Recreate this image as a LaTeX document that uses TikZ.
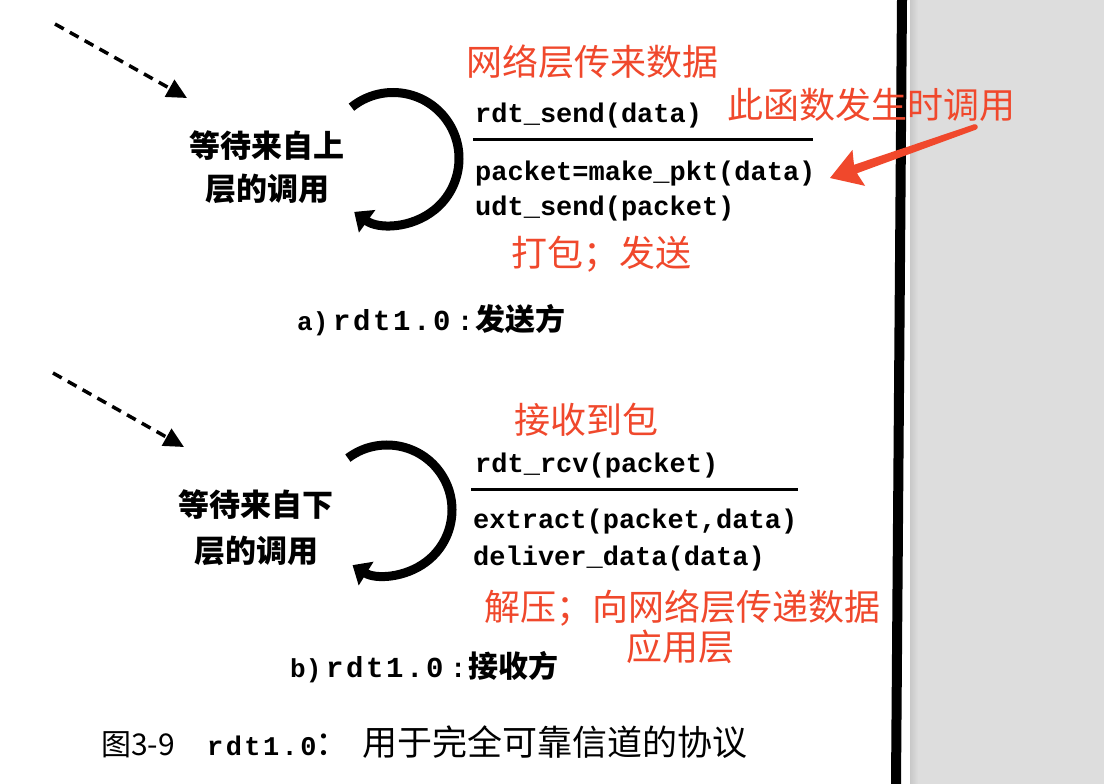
\documentclass[tikz,border=0pt]{standalone}
\usepackage{fontspec}
\usetikzlibrary{arrows.meta,calc}
\setmainfont{Liberation Serif}
\newfontfamily\cjk{Noto Sans CJK SC}
\newfontfamily\mono{Liberation Mono}
\newfontfamily\monols{Liberation Mono}[LetterSpace=9]
\definecolor{annot}{RGB}{240,72,44}
\definecolor{pagegray}{RGB}{221,221,221}
\definecolor{pageshadow}{RGB}{200,200,200}
\begin{document}
\begin{tikzpicture}[x=1pt,y=-1pt,
  codeline/.style={inner sep=0pt, anchor=base west, font=\mono\bfseries\fontsize{27}{30}\selectfont},
  notetext/.style={inner sep=0pt, text=annot, font=\cjk\fontsize{36}{40}\selectfont},
  statetext/.style={inner sep=0pt, align=center},
  subcap/.style={inner sep=0pt, anchor=west},
  initarrow/.style={line width=3.5pt, dash pattern=on 10pt off 7pt, -{Triangle[length=20pt,width=19pt]}},
  selfloop/.style={line width=9pt, -{Triangle[length=16pt,width=27pt]}},
  hrule/.style={line width=3pt},
]
\useasboundingbox (0,0) rectangle (1104,784);
\fill[white] (0,0) rectangle (910,784);
% grey page area and black edge
\fill[pagegray] (910,0) rectangle (1104,784);
\shade[left color=pageshadow, right color=pagegray] (910,0) rectangle (918,784);
\fill[black] (897,0) -- (907,0) -- (901,784) -- (891,784) -- cycle;

% ---------- sender ----------
\coordinate (initA) at (55,24);
\coordinate (initAend) at (187,98);
\draw[initarrow] (initA) -- (initAend);
\node[statetext, font=\cjk\bfseries\fontsize{31}{43}\selectfont] (waitA) at (267,167) {等待来自上\\层的调用};
\coordinate (loopA) at (393,158.5);
\draw[selfloop] ($(loopA)+(-129:66)$) arc[start angle=-129, end angle=126, radius=66];

\node[codeline] (evA) at (475,122) {rdt\_send(data)};
\coordinate (ruleAs) at (473,139);
\coordinate (ruleAe) at (813,139);
\draw[hrule] (ruleAs) -- (ruleAe);
\node[codeline] (actA1) at (475,180) {packet=make\_pkt(data)};
\node[codeline] (actA2) at (475,215) {udt\_send(packet)};

\node[subcap] (capA) at (297,320) {\makebox[36pt][l]{\mono\bfseries\fontsize{26}{30}\selectfont a)}\makebox[124pt][l]{\monols\bfseries\fontsize{29}{30}\selectfont rdt1.0}\makebox[18pt][l]{\mono\bfseries\fontsize{27}{30}\selectfont :}{\cjk\bfseries\fontsize{30}{30}\selectfont 发送方}};

% ---------- receiver ----------
\coordinate (initB) at (53,373);
\coordinate (initBend) at (184,447);
\draw[initarrow] (initB) -- (initBend);
\node[statetext, font=\cjk\bfseries\fontsize{31}{46}\selectfont] (waitB) at (256,528) {等待来自下\\层的调用};
\coordinate (loopB) at (387,510);
\draw[selfloop] ($(loopB)+(-127:65)$) arc[start angle=-127, end angle=122, radius=65];

\node[codeline] (evB) at (475,472) {rdt\_rcv(packet)};
\coordinate (ruleBs) at (471,489);
\coordinate (ruleBe) at (798,489);
\draw[hrule] (ruleBs) -- (ruleBe);
\node[codeline] (actB1) at (473,528) {extract(packet,data)};
\node[codeline] (actB2) at (473,565) {deliver\_data(data)};

\node[subcap] (capB) at (290,667) {\makebox[36pt][l]{\mono\bfseries\fontsize{26}{30}\selectfont b)}\makebox[124pt][l]{\monols\bfseries\fontsize{29}{30}\selectfont rdt1.0}\makebox[18pt][l]{\mono\bfseries\fontsize{27}{30}\selectfont :}{\cjk\bfseries\fontsize{30}{30}\selectfont 接收方}};

% ---------- figure caption ----------
\node[subcap] (caption) at (101,742) {\makebox[106pt][l]{\cjk\fontsize{30}{30}\selectfont 图3-9}\makebox[108pt][l]{\monols\bfseries\fontsize{27}{27}\selectfont rdt1.0}\makebox[47pt][l]{\cjk\fontsize{34}{34}\selectfont ：}{\cjk\fontsize{35}{35}\selectfont 用于完全可靠信道的协议}};

% ---------- red annotations ----------
\node[notetext] (noteA1) at (592,62) {网络层传来数据};
\node[notetext] (noteA2) at (871,105) {此函数发生时调用};
\node[notetext] (noteA3) at (601,254) {打包；发送};
\node[notetext] (noteB1) at (586,420) {接收到包};
\node[notetext] (noteB2) at (682,608) {解压；向网络层传递数据};
\node[notetext] (noteB3) at (680,647) {应用层};

\coordinate (noteTail) at (975,127);
\coordinate (noteTip) at (830,178);
\coordinate (headBase) at ($(noteTip)!27pt!(noteTail)$);
\fill[annot] (noteTip)
  -- ($(noteTip)!36pt!32:(noteTail)$)
  -- ($(headBase)!4.5pt!-90:(noteTip)$)
  -- ($(noteTail)!2.8pt!-90:(noteTip)$)
  -- ($(noteTail)!2.8pt!90:(noteTip)$)
  -- ($(headBase)!4.5pt!90:(noteTip)$)
  -- ($(noteTip)!36pt!-32:(noteTail)$)
  -- cycle;
\fill[annot] (noteTail) circle[radius=2.8pt];
\end{tikzpicture}
\end{document}
